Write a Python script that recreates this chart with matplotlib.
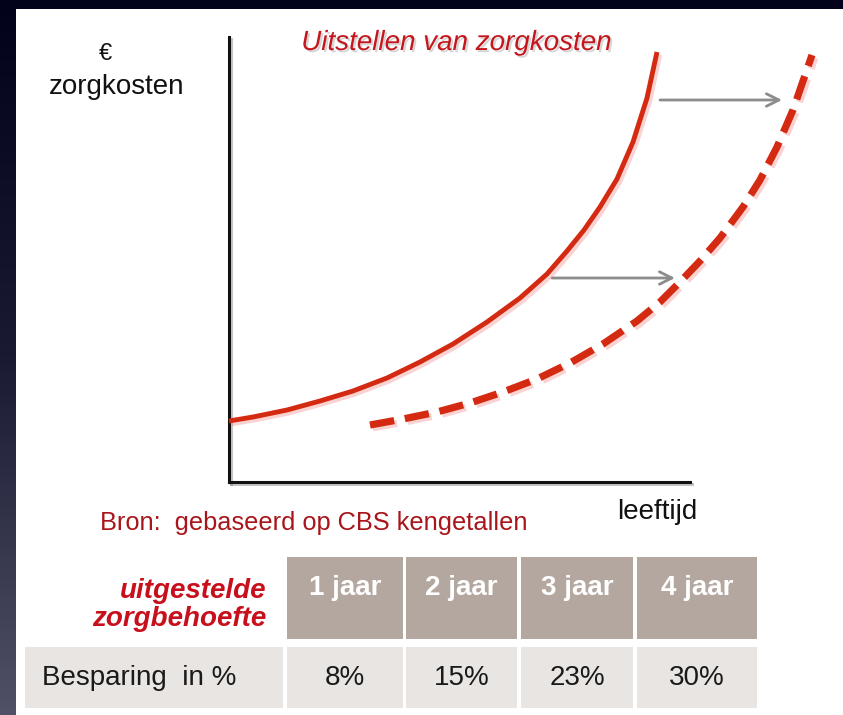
import numpy as np
import matplotlib
matplotlib.use("Agg")
import matplotlib.pyplot as plt
from matplotlib.patches import Rectangle
import matplotlib.patheffects as pe
from matplotlib.colors import LinearSegmentedColormap

# ---------------- data ----------------
# current care-cost curve (age units, cost units)
age_now = [0, 24, 58, 91, 124, 158, 191, 224, 258, 291, 318, 338, 355, 371, 388, 404, 418, 428]
cost_now = [61, 65, 72, 81, 91, 104, 120, 138, 160, 184, 208, 231, 252, 275, 303, 340, 384, 430]
# postponed care-cost curve (dashed)
age_later = [141, 174, 208, 241, 274, 308, 341, 374, 408, 431, 451, 471, 491, 514, 531, 548, 564, 583]
cost_later = [57, 63, 70, 79, 90, 103, 119, 138, 161, 180, 200, 221, 244, 275, 302, 335, 372, 427]
# shift arrows: (start age, end age, cost)
arrow_start = [431, 323]
arrow_end = [553, 446]
arrow_cost = [382, 204]

title = "Uitstellen van zorgkosten"
y_label_top = "€"
y_label = "zorgkosten"
x_label = "leeftijd"
source = "Bron:  gebaseerd op CBS kengetallen"
row_header = "uitgestelde\nzorgbehoefte"
years = ["1 jaar", "2 jaar", "3 jaar", "4 jaar"]
row_label = "Besparing  in %"
savings = [8, 15, 23, 30]

# ---------------- figure ----------------
W, H = 843, 715
fig = plt.figure(figsize=(W / 100, H / 100), dpi=100)
plt.rcParams['font.family'] = ['Liberation Sans', 'DejaVu Sans']

bg = fig.add_axes([0, 0, 1, 1])
bg.set_xlim(0, W)
bg.set_ylim(H, 0)
bg.axis('off')
cmap = LinearSegmentedColormap.from_list('bg', ['#02021a', '#1a1a33', '#505066'])
grad = np.linspace(0, 1, 256).reshape(-1, 1)
bg.imshow(grad, cmap=cmap, extent=[0, W, H, 0], aspect='auto', zorder=0)
bg.add_patch(Rectangle((16, 9), W - 16, H - 9, facecolor='white', edgecolor='none', zorder=1))

RED = '#d42a12'
TITLE_RED = '#c4161c'
DARK_RED = '#a8151a'
FS = 20

# texts
bg.text(105, 54, y_label_top, ha='center', va='center', fontsize=17, color='#111111', zorder=3)
bg.text(117, 87, y_label, ha='center', va='center', fontsize=FS, color='#111111', zorder=3)
bg.text(456, 43, title, ha='center', va='center', fontsize=FS, style='italic', color=TITLE_RED, zorder=3,
        path_effects=[pe.withSimplePatchShadow(offset=(1.5, -1.5), shadow_rgbFace='#999999', alpha=0.4)])
bg.text(657, 512, x_label, ha='center', va='center', fontsize=FS, color='#111111', zorder=3)
bg.text(100, 523, source, ha='left', va='center', fontsize=18.3, color=DARK_RED, zorder=3)

# table
lefts = [287, 406, 521, 637]
rights = [403, 517, 633, 757]
HEAD = '#b4a79f'
CELL = '#e8e5e2'
for l, r, yr, sv in zip(lefts, rights, years, savings):
    bg.add_patch(Rectangle((l, 557), r - l, 639 - 557, facecolor=HEAD, edgecolor='none', zorder=2))
    bg.add_patch(Rectangle((l, 647), r - l, 708 - 647, facecolor=CELL, edgecolor='none', zorder=2))
    bg.text((l + r) / 2, 588, yr, ha='center', va='center', fontsize=FS, fontweight='bold',
            color='white', zorder=3)
    bg.text((l + r) / 2, 678, f"{sv}%", ha='center', va='center', fontsize=FS, color='#1a1a1a', zorder=3)
bg.add_patch(Rectangle((25, 647), 283 - 25, 708 - 647, facecolor=CELL, edgecolor='none', zorder=2))
bg.text(42, 678, row_label, ha='left', va='center', fontsize=FS, color='#1a1a1a', zorder=3)
bg.text(266, 605, row_header, ha='right', va='center', fontsize=FS, fontweight='bold', style='italic',
        color='#c8101c', linespacing=1.12, zorder=3)

# ---------------- chart axes ----------------
x0, x1, ytop, ybot = 229, 690, 37, 482
ax = fig.add_axes([x0 / W, 1 - ybot / H, (x1 - x0) / W, (ybot - ytop) / H])
ax.patch.set_alpha(0)
ax.set_xlim(0, x1 - x0)
ax.set_ylim(0, ybot - ytop)
ax.set_xticks([])
ax.set_yticks([])
for s in ['top', 'right']:
    ax.spines[s].set_visible(False)
for s in ['left', 'bottom']:
    ax.spines[s].set_linewidth(2.2)
    ax.spines[s].set_color('#111111')
    ax.spines[s].set_path_effects([pe.SimpleLineShadow(offset=(1.5, -1.5), shadow_color='#888888', alpha=0.5),
                                   pe.Normal()])

shadow = [pe.SimpleLineShadow(offset=(2, -2), shadow_color='#f08080', alpha=0.35), pe.Normal()]
ax.plot(age_now, cost_now, color=RED, lw=3.5, solid_capstyle='butt', solid_joinstyle='round',
        clip_on=False, path_effects=shadow, zorder=4)
ax.plot(age_later, cost_later, color=RED, lw=5.2, dashes=(3.4, 1.5), dash_capstyle='butt',
        dash_joinstyle='round', clip_on=False, path_effects=shadow, zorder=4)
for xs, xe, yc in zip(arrow_start, arrow_end, arrow_cost):
    ax.annotate('', xy=(xe, yc), xytext=(xs, yc),
                arrowprops=dict(arrowstyle='->,head_length=0.9,head_width=0.45', color='#8c8c8c', lw=2.0,
                                shrinkA=0, shrinkB=0),
                annotation_clip=False, zorder=3)

fig.savefig('out.png', dpi=100)
